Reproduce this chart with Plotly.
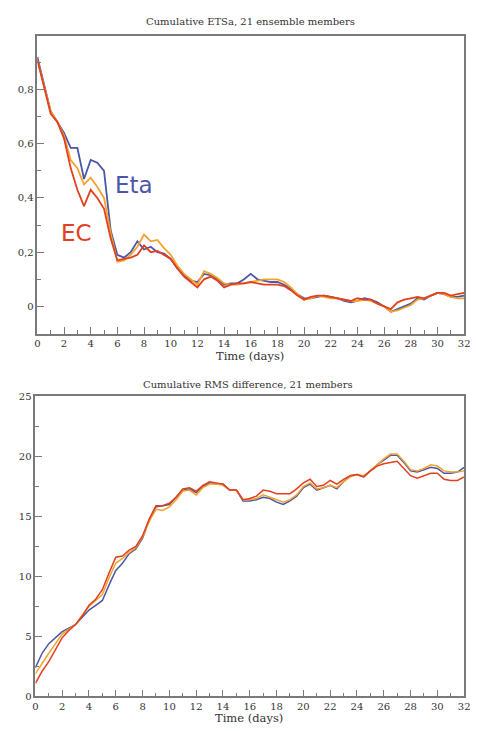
import plotly.graph_objects as go

days = [i * 0.5 for i in range(65)]

# Cumulative ETSa (top panel)
ets_eta = [0.92, 0.82, 0.72, 0.68, 0.64, 0.585, 0.585, 0.47, 0.54, 0.53,
           0.50, 0.28, 0.19, 0.18, 0.20, 0.24, 0.21, 0.22, 0.20, 0.195,
           0.175, 0.14, 0.115, 0.095, 0.09, 0.12, 0.115, 0.10, 0.08, 0.085,
           0.085, 0.10, 0.12, 0.10, 0.095, 0.09, 0.09, 0.08, 0.065, 0.045,
           0.03, 0.03, 0.035, 0.04, 0.035, 0.03, 0.02, 0.015, 0.02, 0.03,
           0.025, 0.015, 0.0, -0.02, -0.01, 0.0, 0.01, 0.03, 0.025, 0.04,
           0.05, 0.045, 0.035, 0.035, 0.04]
ets_mid = [0.91, 0.82, 0.72, 0.68, 0.63, 0.54, 0.51, 0.45, 0.475, 0.44,
           0.40, 0.27, 0.165, 0.17, 0.19, 0.22, 0.265, 0.24, 0.245, 0.215,
           0.19, 0.15, 0.12, 0.10, 0.08, 0.13, 0.12, 0.105, 0.085, 0.08,
           0.08, 0.085, 0.09, 0.095, 0.10, 0.10, 0.10, 0.09, 0.07, 0.045,
           0.025, 0.03, 0.04, 0.035, 0.03, 0.03, 0.025, 0.02, 0.02, 0.025,
           0.02, 0.01, 0.0, -0.02, -0.015, -0.005, 0.005, 0.025, 0.03, 0.04,
           0.05, 0.045, 0.035, 0.03, 0.03]
ets_ec = [0.91, 0.81, 0.71, 0.68, 0.62, 0.51, 0.43, 0.37, 0.43, 0.40,
          0.36, 0.25, 0.17, 0.175, 0.18, 0.19, 0.225, 0.20, 0.205, 0.19,
          0.175, 0.14, 0.11, 0.09, 0.07, 0.10, 0.11, 0.095, 0.07, 0.08,
          0.085, 0.085, 0.09, 0.085, 0.08, 0.08, 0.08, 0.075, 0.06, 0.04,
          0.025, 0.035, 0.04, 0.04, 0.035, 0.03, 0.025, 0.02, 0.03, 0.025,
          0.025, 0.01, 0.0, -0.01, 0.015, 0.025, 0.03, 0.035, 0.03, 0.04,
          0.05, 0.05, 0.04, 0.045, 0.05]

# Cumulative RMS difference (bottom panel)
rms_eta = [2.4, 3.6, 4.4, 4.9, 5.4, 5.7, 6.0, 6.6, 7.2, 7.6,
           8.0, 9.3, 10.5, 11.1, 11.9, 12.3, 13.2, 14.7, 15.8, 15.9,
           16.0, 16.6, 17.2, 17.3, 17.0, 17.5, 17.8, 17.7, 17.7, 17.2,
           17.2, 16.3, 16.3, 16.4, 16.6, 16.5, 16.2, 16.0, 16.3, 16.7,
           17.4, 17.7, 17.2, 17.4, 17.6, 17.3, 17.9, 18.4, 18.5, 18.3,
           18.8, 19.3, 19.7, 20.1, 20.1, 19.5, 18.8, 18.7, 18.9, 19.1,
           19.0, 18.6, 18.6, 18.7, 19.1]
rms_mid = [1.9, 2.8, 3.6, 4.4, 5.2, 5.6, 6.0, 6.8, 7.5, 8.0,
           8.5, 9.9, 11.1, 11.5, 12.0, 12.4, 13.3, 14.6, 15.6, 15.5,
           15.8, 16.4, 17.1, 17.2, 16.8, 17.4, 17.7, 17.7, 17.6, 17.2,
           17.2, 16.4, 16.4, 16.5, 16.8, 16.6, 16.4, 16.2, 16.4, 16.8,
           17.5, 17.8, 17.3, 17.4, 17.6, 17.4, 17.9, 18.3, 18.5, 18.4,
           18.8, 19.3, 19.8, 20.2, 20.2, 19.6, 18.9, 18.8, 19.0, 19.3,
           19.2, 18.8, 18.7, 18.7, 18.8]
rms_ec = [1.1, 2.1, 2.9, 3.9, 4.9, 5.5, 6.0, 6.7, 7.6, 8.1,
          8.9, 10.3, 11.6, 11.7, 12.2, 12.5, 13.4, 14.8, 15.9, 15.9,
          16.1, 16.6, 17.3, 17.4, 17.1, 17.6, 17.9, 17.8, 17.7, 17.2,
          17.2, 16.4, 16.5, 16.7, 17.2, 17.1, 16.9, 16.9, 16.9, 17.3,
          17.8, 18.1, 17.5, 17.6, 18.0, 17.7, 18.1, 18.4, 18.5, 18.3,
          18.8, 19.2, 19.4, 19.5, 19.6, 19.0, 18.4, 18.2, 18.4, 18.6,
          18.6, 18.1, 18.0, 18.0, 18.3]

top_title = "Cumulative ETSa, 21 ensemble members"
bottom_title = "Cumulative RMS difference, 21 members"
x_title = "Time (days)"

BLUE = "#4a56a8"
ORANGE = "#f3a32c"
RED = "#e2401f"
FRAME = "#7a7a7a"
SERIF = "DejaVu Serif"
TXT = "#333333"

fig = go.Figure()
for ys, col in [(ets_eta, BLUE), (ets_mid, ORANGE), (ets_ec, RED)]:
    fig.add_trace(go.Scatter(x=days, y=ys, mode="lines", xaxis="x", yaxis="y",
                             line=dict(color=col, width=1.8), showlegend=False))
for ys, col in [(rms_eta, BLUE), (rms_mid, ORANGE), (rms_ec, RED)]:
    fig.add_trace(go.Scatter(x=days, y=ys, mode="lines", xaxis="x2", yaxis="y2",
                             line=dict(color=col, width=1.5), showlegend=False))

axis_common = dict(showline=True, linecolor=FRAME, linewidth=1.6, mirror=True,
                   showgrid=False, zeroline=False, ticks="inside",
                   tickcolor=FRAME, ticklen=7, tickwidth=1.3,
                   tickfont=dict(family=SERIF, size=10, color=TXT))
minor_common = dict(ticklen=4, tickcolor=FRAME, ticks="inside", tickwidth=1.2)

fig.update_layout(
    width=479, height=731, margin=dict(l=0, r=0, t=0, b=0),
    paper_bgcolor="white", plot_bgcolor="white", separators=", ",
    xaxis=dict(domain=[35/479, 470/479], anchor="y", range=[0, 32],
               tickmode="linear", tick0=0, dtick=2,
               minor=dict(dtick=1, **minor_common), **axis_common),
    yaxis=dict(domain=[1 - 333/731, 1 - 30/731], anchor="x", range=[-0.1, 0.999],
               tickmode="linear", tick0=0, dtick=0.2,
               minor=dict(dtick=0.1, **minor_common), **axis_common),
    xaxis2=dict(domain=[33/479, 470/479], anchor="y2", range=[0, 32],
                tickmode="linear", tick0=0, dtick=2,
                minor=dict(dtick=1, **minor_common), **axis_common),
    yaxis2=dict(domain=[1 - 702/731, 1 - 397/731], anchor="x2", range=[0, 25],
                tickmode="linear", tick0=0, dtick=5,
                minor=dict(dtick=2.5, **minor_common), **axis_common),
    annotations=[
        dict(text=top_title, x=252/479, y=1 - 16/731, xref="paper", yref="paper",
             xanchor="center", yanchor="middle", showarrow=False,
             font=dict(family=SERIF, size=10, color=TXT)),
        dict(text=bottom_title, x=250/479, y=1 - 385/731, xref="paper", yref="paper",
             xanchor="center", yanchor="middle", showarrow=False,
             font=dict(family=SERIF, size=10, color=TXT)),
        dict(text=x_title, x=252/479, y=1 - 356/731, xref="paper", yref="paper",
             xanchor="center", yanchor="middle", showarrow=False,
             font=dict(family=SERIF, size=11.5, color=TXT)),
        dict(text=x_title, x=251/479, y=1 - 724/731, xref="paper", yref="paper",
             xanchor="center", yanchor="middle", showarrow=False,
             font=dict(family=SERIF, size=11.5, color=TXT)),
        dict(text="Eta", x=134/479, y=1 - 182/731, xref="paper", yref="paper",
             xanchor="center", yanchor="middle", showarrow=False,
             font=dict(family="DejaVu Sans", size=23, color=BLUE)),
        dict(text="EC", x=75/479, y=1 - 231/731, xref="paper", yref="paper",
             xanchor="center", yanchor="middle", showarrow=False,
             font=dict(family="DejaVu Sans", size=23, color=RED)),
    ],
)

fig.write_html("out.html")
